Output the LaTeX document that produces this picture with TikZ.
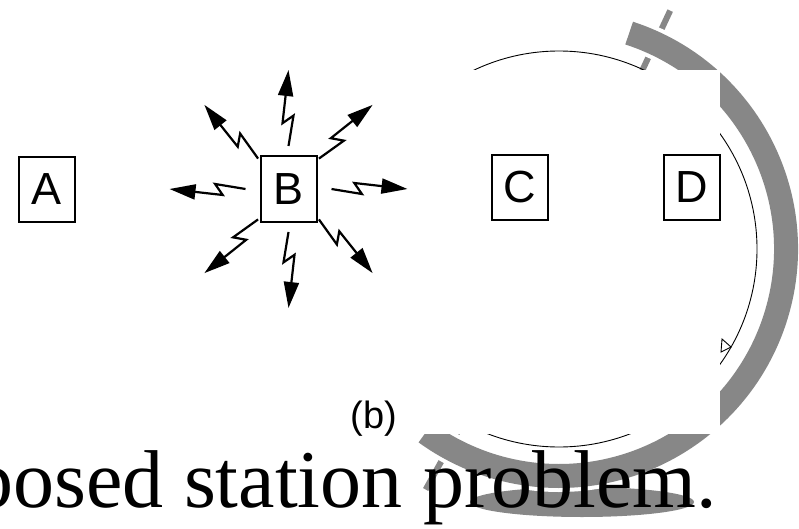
\documentclass[tikz,border=0pt]{standalone}
\usepackage{fontspec}
\setmainfont{Liberation Serif}
\setsansfont{Liberation Sans}
\usetikzlibrary{calc, arrows.meta}
\definecolor{color_text}{HTML}{000000}
\definecolor{color_band}{HTML}{878787}
\tikzset{
  station_box/.style={draw=color_text, line width=2pt, minimum width=56pt, minimum height=65pt, inner sep=0pt, font=\sffamily\fontsize{45}{45}\selectfont},
  bolt_arrow/.style={draw=color_text, line width=2.2pt, -{Triangle[length=26pt, width=15pt]},
    to path={-- ($(\tikztostart)!0.4!(\tikztotarget)!5pt!-90:(\tikztotarget)$) -- ($(\tikztostart)!0.3!(\tikztotarget)!6pt!90:(\tikztotarget)$) -- (\tikztotarget)}},
  band_arc/.style={draw=color_band, line width=24pt},
  band_gap/.style={draw=white, line width=32pt},
  band_tick/.style={draw=color_band, line width=6pt},
  range_circle/.style={draw=color_text, line width=0.9pt},
  figure_label/.style={inner sep=0pt, text=color_text},
}

\begin{document}
\begin{tikzpicture}[x=1pt, y=-1pt]
    \useasboundingbox (0,0) rectangle (799,529);
    \clip (0,0) rectangle (799,529);
    % Range of the hidden station
    \coordinate (O) at (559,249);
    \fill[color_band] (582,502) ellipse[x radius=112, y radius=15];
    \draw[band_tick] ($(O)+(-65:197)$) -- ($(O)+(-65:263)$);
    \draw[band_tick] ($(O)+(119:197)$) -- ($(O)+(119:275)$);
    \draw[band_gap] ($(O)+(-72:227)$) arc[start angle=-72, end angle=126, radius=227];
    \draw[band_arc] ($(O)+(-72:227)$) arc[start angle=-72, end angle=126, radius=227];
    \draw[range_circle] (O) circle[radius=198];
    \draw[range_circle] (722,339) -- (731,347) -- (721,352) -- cycle;
    % Cover
    \fill[white] (330,70) rectangle (720,434);
    % Stations
    \node[station_box] (A) at (46.5,189.5) {A};
    \node[station_box] (B) at (288.5,189) {B};
    \node[station_box] (C) at (520,187.5) {C};
    \node[station_box] (D) at (691.5,187.5) {D};
    % B transmits
    \foreach \a in {0,45,...,315} {
      \coordinate (s\a) at ($(B)+(\a:43)$);
      \coordinate (t\a) at ($(B)+(\a:119)$);
      \draw[bolt_arrow] (s\a) to (t\a);
    }
    \node[figure_label, font=\sffamily\fontsize{38}{38}\selectfont] (sub) at (374,419) {(b)};
    \node[figure_label, anchor=base west, font=\rmfamily\fontsize{82}{82}\selectfont] (caption)
      at (-28,507) {posed station problem.};
  \end{tikzpicture}
\end{document}
